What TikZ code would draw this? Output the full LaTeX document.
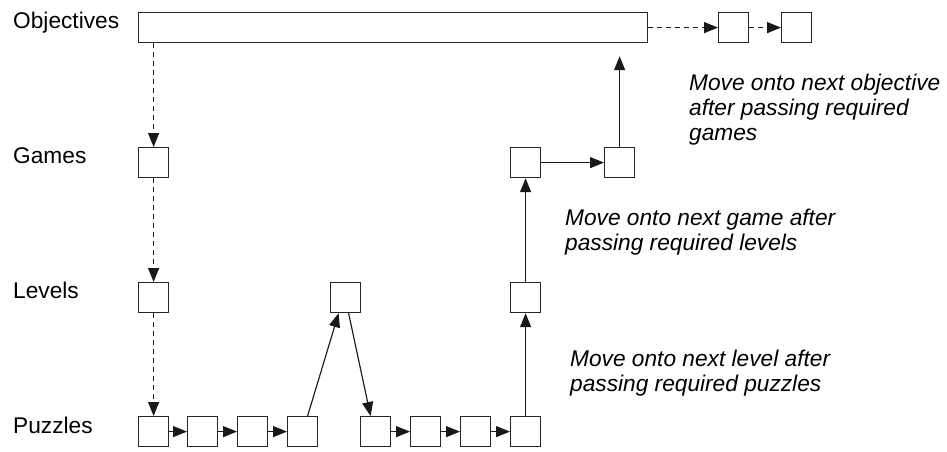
\documentclass[tikz,border=0pt]{standalone}
\usepackage{fontspec}
\setmainfont{Liberation Sans}
\usetikzlibrary{arrows.meta}
\begin{document}
\begin{tikzpicture}[x=1pt,y=-1pt,
  sq/.style={draw=black!85,line width=1.2pt,fill=white,minimum width=30pt,minimum height=30pt,inner sep=0pt,anchor=north west},
  lbl/.style={font=\fontsize{22.7}{25}\selectfont,anchor=base west,inner sep=0pt},
  note/.style={font=\fontsize{22.7}{24.8}\selectfont\itshape,anchor=base west,inner sep=0pt,align=left},
  conn/.style={draw=black!90,line width=1.15pt,-{Triangle[length=14pt,width=11pt]}},
  dconn/.style={conn,dash pattern=on 5pt off 4pt}]
\useasboundingbox (0,0) rectangle (947,451);
% labels
\node[lbl] (lo) at (13,28) {Objectives};
\node[lbl] (lg) at (13,163) {Games};
\node[lbl] (ll) at (13,298) {Levels};
\node[lbl] (lp) at (13,433) {Puzzles};
% objectives
\node[sq,minimum width=509pt] (obj) at (138,12) {};
\node[sq] (o2) at (718,12) {};
\node[sq] (o3) at (781,12) {};
% games
\node[sq] (g1) at (138,147) {};
\node[sq] (g2) at (510,147) {};
\node[sq] (g3) at (604,147) {};
% levels
\node[sq] (l1) at (138,282) {};
\node[sq] (l2) at (330,282) {};
\node[sq] (l3) at (510,282) {};
% puzzles
\node[sq] (p1) at (138,416) {};
\node[sq] (p2) at (187,416) {};
\node[sq] (p3) at (237,416) {};
\node[sq] (p4) at (287,416) {};
\node[sq] (p5) at (360,416) {};
\node[sq] (p6) at (410,416) {};
\node[sq] (p7) at (460,416) {};
\node[sq] (p8) at (510,416) {};
\coordinate (otgt) at ([yshift=-13pt]g3.north |- obj.south);
% dashed
\draw[dconn] (g1.north |- obj.south) -- (g1.north);
\draw[dconn] (g1.south) -- (l1.north);
\draw[dconn] (l1.south) -- (p1.north);
\draw[dconn] (obj.east |- o2.west) -- (o2.west);
\draw[dconn] (o2.east) -- (o3.west);
% puzzle chains
\draw[conn] (p1.east) -- (p2.west);
\draw[conn] (p2.east) -- (p3.west);
\draw[conn] (p3.east) -- (p4.west);
\draw[conn] (p5.east) -- (p6.west);
\draw[conn] (p6.east) -- (p7.west);
\draw[conn] (p7.east) -- (p8.west);
\draw[conn] ([xshift=5pt]p4.north) -- ([xshift=-7pt]l2.south);
\draw[conn] ([xshift=3pt]l2.south) -- ([xshift=-5pt]p5.north);
\draw[conn] (p8.north) -- (l3.south);
\draw[conn] (l3.north) -- (g2.south);
\draw[conn] (g2.east) -- (g3.west);
\draw[conn] (g3.north) -- (otgt);
% notes
\node[note] (n1) at (689,140.5) {Move onto next objective\\after passing required\\games};
\node[note] (n2) at (565,250) {Move onto next game after\\passing required levels};
\node[note] (n3) at (570,391) {Move onto next level after\\passing required puzzles};
\end{tikzpicture}
\end{document}
